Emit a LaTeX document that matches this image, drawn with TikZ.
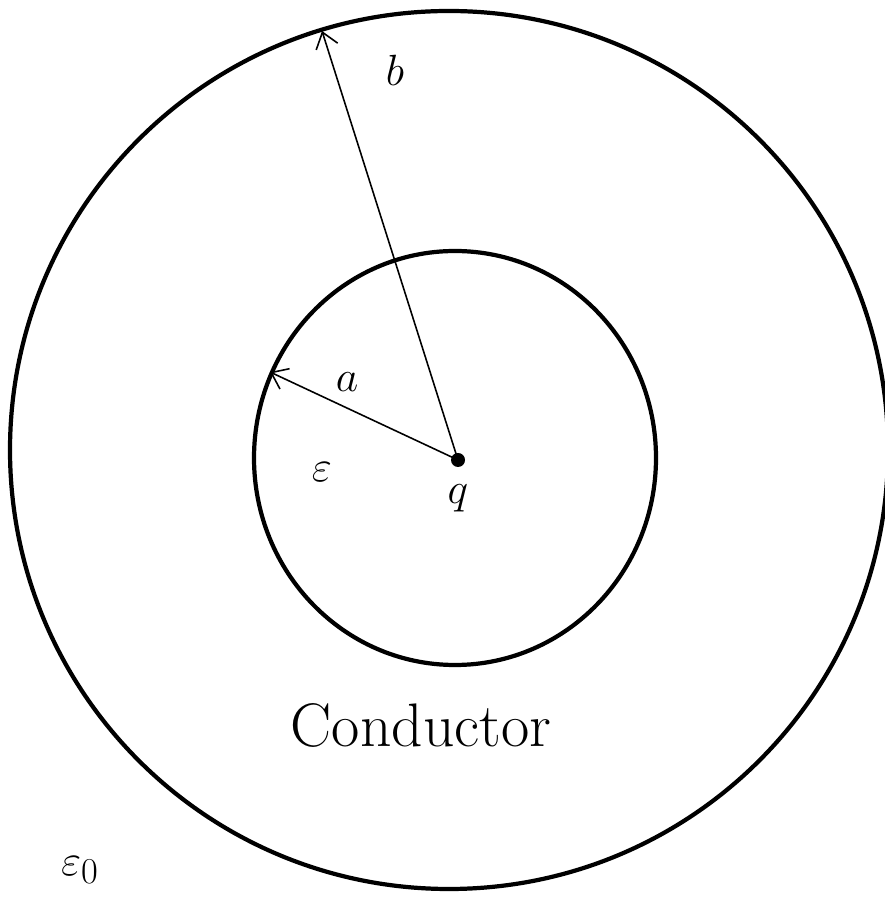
\documentclass[tikz,border=0pt]{standalone}
\usepackage{amsmath,amssymb}
\usetikzlibrary{arrows.meta}
\begin{document}
\begin{tikzpicture}[>={Straight Barb[length=3mm,width=4.5mm]},
    wall/.style={line width=2.4pt},
    rad/.style={->,line width=0.9pt},
    lab/.style={font=\fontsize{38}{44}\selectfont}]
  \useasboundingbox (0,0) rectangle (17.7,18.3);
  \coordinate (outc) at (8.98,9.30);
  \coordinate (inc) at (9.10,9.14);
  \draw[wall] (outc) circle[radius=8.78];
  \draw[wall] (inc) ellipse[x radius=4.02,y radius=4.14];
  \node[circle,fill,inner sep=0,minimum size=0.28cm] (chg) at (9.16,9.10) {};
  \coordinate (atip) at (5.40,10.86);
  \coordinate (btip) at (6.44,17.68);
  \draw[rad] (chg.center) -- (atip);
  \draw[rad] (chg.center) -- (btip);
  \node[lab] (la) at (6.94,10.66) {$a$};
  \node[lab] (lb) at (7.90,16.90) {$b$};
  \node[lab] (leps) at (6.44,8.86) {$\varepsilon$};
  \node[lab] (lq) at (9.16,8.34) {$q$};
  \node[font=\fontsize{35}{42}\selectfont] (lcond) at (8.42,3.80) {Conductor};
  \node[font=\fontsize{28}{34}\selectfont] (leps0) at (1.60,0.90) {$\varepsilon_0$};
\end{tikzpicture}
\end{document}
